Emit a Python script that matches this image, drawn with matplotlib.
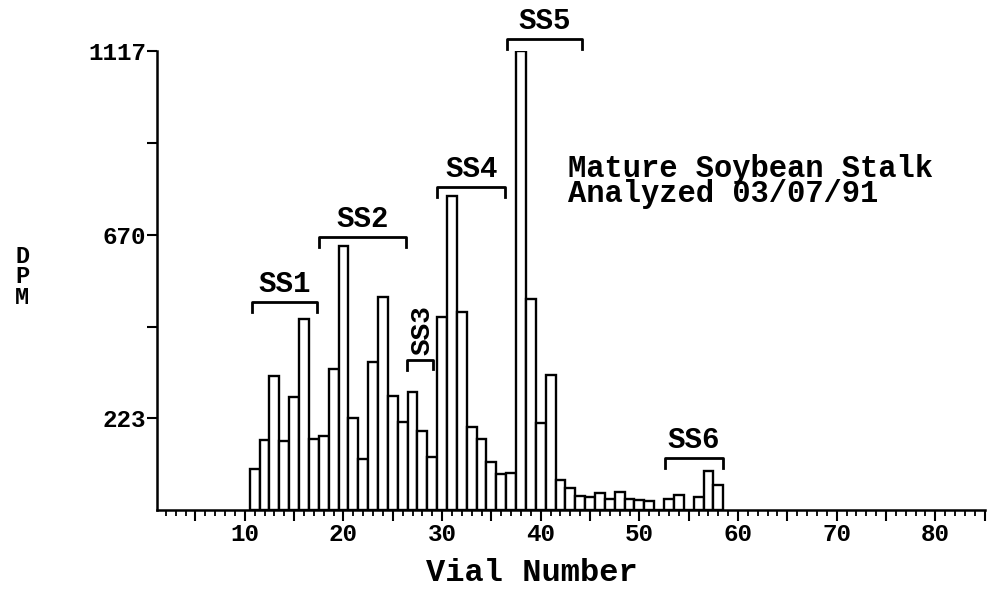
import numpy as np
import matplotlib
matplotlib.use("Agg")
import matplotlib.pyplot as plt
from matplotlib.ticker import MultipleLocator, FixedLocator, FuncFormatter

# vial numbers and DPM counts
vials = list(range(11, 59))
dpm = [100, 170, 326, 169, 276, 466, 172, 181, 344, 642,
       224, 124, 360, 519, 277, 213, 286, 192, 130, 470,
       763, 483, 203, 172, 118, 87, 91, 1117, 513, 212,
       328, 73, 54, 33, 32, 41, 28, 43, 28, 25,
       22, 0, 27, 37, 0, 32, 94, 61]

# fraction brackets: name, x start, x end, bracket height
groups = ["SS1", "SS2", "SS4", "SS5", "SS6"]
g_x0 = [10.7, 17.5, 29.5, 36.6, 52.6]
g_x1 = [17.3, 26.3, 36.4, 44.2, 58.5]
g_y = [506, 664, 786, 1146, 127]

y_ticks = [223, 670, 1117]
y_minor = [446, 893]

mono = "Liberation Mono"

fig = plt.figure(figsize=(9.9, 5.89), dpi=100)
ax = fig.add_axes([0.1586, 0.1341, 0.836, 0.7793])

ax.bar(vials, dpm, width=1.0, facecolor="white", edgecolor="black", linewidth=1.7)

ax.set_xlim(1.1, 85)
ax.set_ylim(0, 1117)

for s in ["top", "right"]:
    ax.spines[s].set_visible(False)
ax.spines["left"].set_linewidth(1.8)
ax.spines["bottom"].set_linewidth(1.8)

# long ticks every 5, labels only on the tens
ax.xaxis.set_major_locator(MultipleLocator(5))
ax.xaxis.set_minor_locator(MultipleLocator(1))
ax.xaxis.set_major_formatter(FuncFormatter(lambda v, p: "%d" % v if v % 10 == 0 else ""))
ax.tick_params(axis="x", which="major", length=8, width=1.5, direction="out", pad=1)
ax.tick_params(axis="x", which="minor", length=4.5, width=1.3, direction="out")
ax.set_yticks(y_ticks)
ax.yaxis.set_minor_locator(FixedLocator(y_minor))
ax.tick_params(axis="y", which="both", length=7, width=1.5, direction="out", pad=1)

for lab in ax.get_xticklabels() + ax.get_yticklabels():
    lab.set_fontfamily(mono)
    lab.set_fontweight("bold")
    lab.set_fontsize(17.5)

# brackets over each fraction
for name, a, b, h in zip(groups, g_x0, g_x1, g_y):
    leg = 25
    ax.plot([a, a, b, b], [h - leg, h, h, h - leg], color="black", lw=2, clip_on=False)
    ax.text((a + b) / 2, h + 10, name, ha="center", va="bottom", family=mono,
            fontweight="bold", fontsize=21, clip_on=False)

# SS3 has a small bracket with vertical label
ax.plot([26.4, 26.4, 29.1, 29.1], [340, 366, 366, 344], color="black", lw=2)
ax.text(28.0, 378, "SS3", rotation=90, ha="center", va="bottom", family=mono,
        fontweight="bold", fontsize=20)

ax.text(42.8, 800, "Mature Soybean Stalk\nAnalyzed 03/07/91", ha="left", va="center",
        family=mono, fontweight="bold", fontsize=22, linespacing=0.8)

fig.text(0.0225, 0.53, "D\nP\nM", ha="center", va="center", family=mono,
         fontweight="bold", fontsize=17, linespacing=0.85)
fig.text(0.537, 0.027, "Vial Number", ha="center", va="center", family=mono,
         fontweight="bold", fontsize=23)

fig.savefig("out.png", dpi=100)
